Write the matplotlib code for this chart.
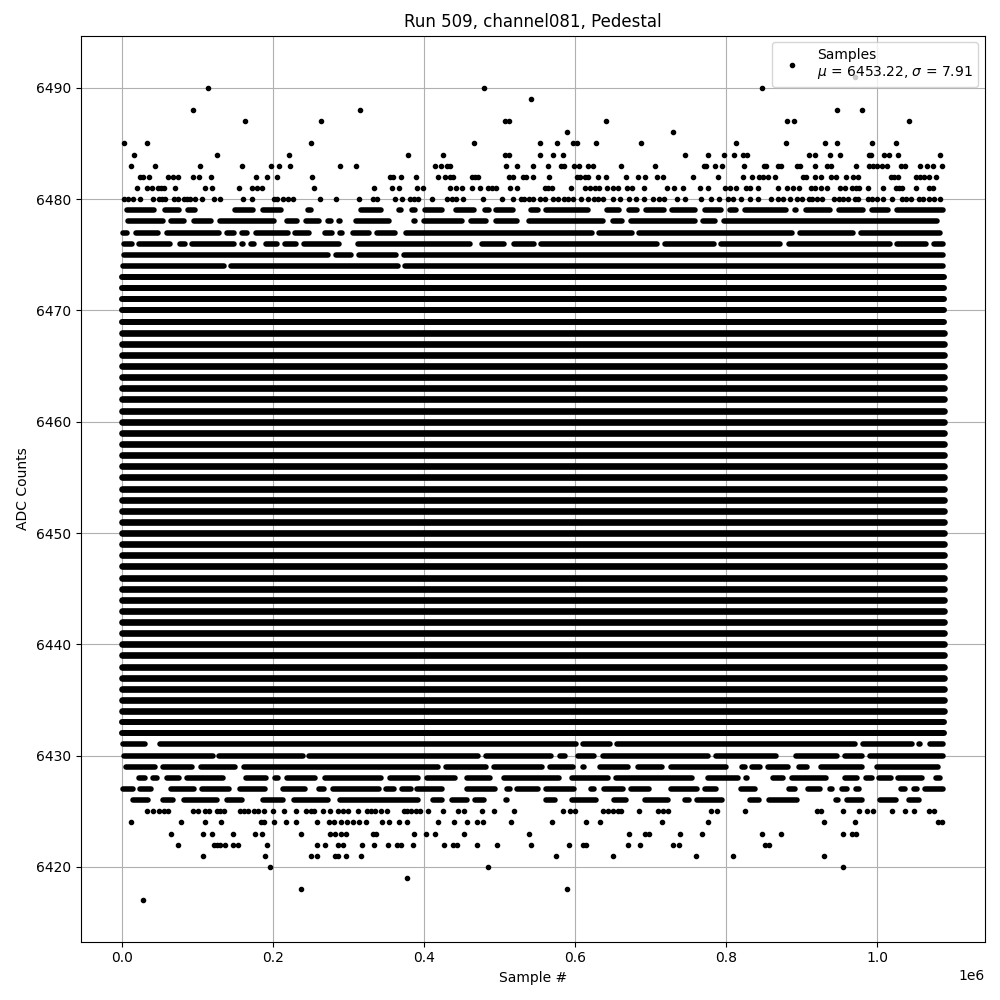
import matplotlib
matplotlib.use("Agg")
import matplotlib.pyplot as plt

# ---- Sample positions are in thousands of samples ----
# Sparse ADC levels: individual samples
dots_6491 = [971]
dots_6490 = [114, 480, 847]
dots_6489 = [542]
dots_6488 = [94, 316, 947, 979]
dots_6487 = [163, 264, 507, 513, 641, 880, 890, 1042]
dots_6486 = [589, 729]
dots_6485 = [3, 33, 250, 466, 554, 576, 597, 602, 628, 687, 813, 879, 931, 946, 993, 1024]
dots_6484 = [16, 126, 222, 379, 425, 507, 512, 554, 571, 584, 745, 776, 797, 810, 822, 828,
             909, 918, 937, 950, 989, 992, 1009, 1016, 1027, 1083]
dots_6483 = [12, 44, 104, 159, 198, 208, 223, 289, 310, 414, 423, 430, 435, 509, 523, 544, 564,
             582, 586, 599, 605, 617, 624, 661, 706, 770, 773, 785, 794, 823, 850, 853, 868,
             872, 894, 897, 917, 934, 938, 972, 989, 994, 1000, 1006, 1013, 1031, 1036, 1057,
             1065, 1073, 1085]
dots_6482 = [24, 28, 36, 62, 68, 74, 95, 103, 118, 178, 192, 205, 252, 355, 359, 370, 390, 419,
             428, 435, 438, 463, 467, 471, 513, 518, 531, 535, 544, 565, 602, 607, 613, 617,
             630, 641, 667, 683, 692, 708, 717, 756, 789, 822, 834, 843, 848, 855, 865, 901,
             905, 918, 925, 939, 945, 958, 968, 975, 1018, 1022, 1027, 1051, 1056, 1062, 1068,
             1078]
dots_6481 = [20, 34, 40, 48, 52, 56, 70, 110, 120, 155, 173, 179, 186, 254, 334, 358, 367, 391,
             399, 435, 442, 451, 463, 474, 485, 490, 496, 514, 523, 560, 564, 569, 595, 613,
             620, 627, 632, 642, 650, 657, 669, 675, 691, 721, 731, 743, 765, 776, 798, 805,
             813, 826, 832, 842, 868, 881, 889, 896, 912, 918, 925, 934, 950, 957, 967, 972,
             976, 987, 1008, 1024, 1028, 1033, 1051, 1068, 1074]
dots_6480 = [3, 8, 15, 24, 41, 49, 53, 57, 69, 75, 82, 86, 90, 97, 106, 122, 130, 161, 172, 201,
             205, 213, 220, 227, 262, 284, 314, 333, 338, 362, 371, 381, 387, 392, 411, 430,
             437, 443, 452, 478, 503, 518, 529, 533, 539, 544, 553, 560, 571, 577, 585, 591,
             597, 608, 617, 625, 630, 637, 650, 659, 672, 680, 691, 703, 711, 718, 735, 745,
             767, 780, 790, 802, 809, 820, 832, 842, 859, 869, 875, 884, 893, 900, 910, 914,
             920, 927, 943, 949, 955, 961, 970, 974, 987, 993, 1000, 1007, 1020, 1033, 1038,
             1044, 1055, 1061, 1068, 1075, 1083]
dots_6425 = [33, 42, 50, 56, 62, 95, 101, 110, 115, 126, 130, 135, 157, 162, 167, 175, 181, 189,
             200, 215, 231, 244, 250, 254, 266, 276, 286, 293, 300, 313, 325, 330, 335, 343,
             351, 373, 378, 383, 390, 395, 406, 425, 445, 453, 477, 493, 519, 584, 593, 600,
             637, 643, 650, 657, 661, 684, 710, 716, 723, 780, 788, 825, 920, 926, 954, 976,
             986, 994, 1019, 1036, 1049, 1068, 1075]
dots_6424 = [13, 78, 110, 131, 184, 188, 201, 218, 231, 258, 274, 281, 290, 298, 306, 314, 323,
             345, 354, 367, 377, 418, 440, 457, 470, 478, 515, 570, 614, 633, 715, 776, 930,
             971, 1080, 1086]
dots_6423 = [65, 108, 119, 147, 177, 186, 238, 276, 283, 290, 297, 332, 337, 387, 403, 415, 453,
             539, 671, 692, 698, 739, 768, 847, 873, 955, 967, 972]
dots_6422 = [74, 122, 126, 130, 137, 147, 154, 193, 258, 269, 286, 293, 318, 334, 352, 364, 370,
             386, 427, 439, 444, 470, 497, 542, 592, 610, 615, 670, 686, 729, 737, 851, 857]
dots_6421 = [108, 190, 250, 259, 282, 286, 297, 317, 575, 650, 760, 809, 929]
dots_6420 = [196, 485, 955]
dots_6419 = [378]
dots_6418 = [238, 589]
dots_6417 = [28]

# Gappy ADC levels: occupied sample ranges (outer start, outer end)
runs_6479 = [(3, 47), (54, 80), (84, 100), (104, 111), (116, 123), (134, 141), (146, 177), (183, 215),
             (225, 231), (243, 254), (268, 274), (282, 288), (313, 347), (363, 373), (381, 392),
             (398, 428), (430, 434), (439, 470), (477, 489), (492, 522), (528, 533), (538, 555),
             (558, 621), (626, 632), (639, 661), (668, 685), (691, 721), (725, 762), (768, 796),
             (802, 817), (822, 883), (888, 896), (902, 941), (946, 985), (989, 1018), (1022, 1090)]
runs_6478 = [(5, 58), (62, 86), (92, 122), (127, 205), (215, 236), (241, 265), (269, 280), (284, 293),
             (307, 357), (369, 376), (384, 392), (397, 454), (459, 485), (492, 527), (536, 641),
             (647, 665), (670, 762), (766, 788), (793, 1082), (1084, 1089)]
runs_6477 = [(-2, 11), (15, 52), (56, 133), (136, 152), (156, 169), (174, 224), (226, 252), (254, 259),
             (266, 282), (286, 295), (303, 331), (335, 365), (373, 626), (628, 679), (681, 890),
             (894, 971), (975, 1086)]
runs_6476 = [(-1, 17), (20, 67), (74, 87), (90, 152), (156, 164), (168, 179), (188, 209), (213, 234),
             (238, 291), (309, 465), (473, 509), (516, 549), (552, 712), (716, 787), (789, 875),
             (879, 1020), (1023, 1068), (1071, 1090)]
runs_6475 = [(-1, 276), (280, 307), (310, 366), (370, 1090)]
runs_6474 = [(-2, 139), (141, 369), (371, 1090)]
runs_6431 = [(-2, 35), (38, 45), (47, 605), (607, 650), (652, 974), (978, 1049), (1051, 1060), (1066, 1090)]
runs_6430 = [(0, 124), (126, 243), (244, 475), (478, 572), (576, 590), (601, 628), (634, 780),
             (783, 870), (875, 883), (889, 950), (954, 983), (987, 1090)]
runs_6429 = [(2, 48), (51, 97), (101, 154), (158, 422), (426, 485), (489, 560), (563, 601), (607, 615),
             (617, 623), (630, 674), (680, 719), (723, 803), (817, 828), (831, 848), (852, 885),
             (893, 911), (922, 983), (996, 1084)]
runs_6428 = [(20, 34), (38, 50), (56, 80), (83, 137), (142, 149), (152, 158), (161, 195), (200, 210),
             (215, 260), (265, 347), (351, 396), (400, 445), (454, 491), (503, 582), (592, 647),
             (651, 758), (761, 768), (772, 819), (823, 831), (839, 846), (858, 879), (883, 936),
             (954, 977), (982, 996), (999, 1021), (1024, 1062), (1074, 1086)]
runs_6427 = [(-2, 18), (21, 42), (62, 99), (103, 146), (153, 193), (197, 204), (210, 246), (249, 256),
             (258, 271), (276, 344), (346, 364), (367, 387), (388, 427), (430, 434), (454, 498),
             (506, 517), (520, 555), (558, 602), (608, 613), (618, 628), (635, 667), (670, 701),
             (707, 714), (724, 765), (768, 790), (804, 811), (816, 842), (858, 865), (880, 894),
             (905, 927), (934, 943), (950, 963), (968, 979), (982, 989), (1015, 1021), (1028, 1040),
             (1045, 1056), (1060, 1090)]
runs_6426 = [(12, 38), (51, 71), (79, 130), (136, 163), (168, 175), (183, 217), (224, 276), (285, 396),
             (409, 428), (433, 461), (464, 483), (486, 493), (505, 513), (520, 526), (558, 577),
             (592, 631), (638, 645), (648, 671), (675, 681), (689, 726), (742, 754), (758, 798),
             (807, 814), (828, 847), (853, 897), (942, 951), (956, 983), (1000, 1028), (1039, 1059),
             (1077, 1084)]

# Fully populated ADC levels and their sample range
outer_levels = [6473, 6472, 6471, 6470, 6469, 6433, 6432]   # slightly thinner bands
core_levels = list(range(6434, 6469))                       # densest bands
solid_range = (0, 1088)

dot_levels = [(6491, dots_6491), (6490, dots_6490), (6489, dots_6489), (6488, dots_6488),
              (6487, dots_6487), (6486, dots_6486), (6485, dots_6485), (6484, dots_6484),
              (6483, dots_6483), (6482, dots_6482), (6481, dots_6481), (6480, dots_6480),
              (6425, dots_6425), (6424, dots_6424), (6423, dots_6423), (6422, dots_6422),
              (6421, dots_6421), (6420, dots_6420), (6419, dots_6419), (6418, dots_6418),
              (6417, dots_6417)]
run_levels = [(6479, runs_6479), (6478, runs_6478), (6477, runs_6477), (6476, runs_6476),
              (6475, runs_6475), (6474, runs_6474), (6431, runs_6431), (6430, runs_6430),
              (6429, runs_6429), (6428, runs_6428), (6427, runs_6427), (6426, runs_6426)]

title = "Run 509, channel081, Pedestal"
label = "Samples\n$\\mu$ = 6453.22, $\\sigma$ = 7.91"

THOUSAND = 1e3
CAP_INSET = 3.5  # half a dot, in thousands of samples

fig, ax = plt.subplots(figsize=(10, 10), dpi=100)

xs, ys = [], []
for level, samples in dot_levels:
    xs += [s * THOUSAND for s in samples]
    ys += [level] * len(samples)
ax.plot(xs, ys, "k.", markersize=6, label=label)

for level, runs in run_levels:
    for a, b in runs:
        a2, b2 = a + CAP_INSET, b - CAP_INSET
        if b2 < a2:
            a2 = b2 = (a + b) / 2
        ax.plot([a2 * THOUSAND, b2 * THOUSAND], [level, level], color="k", lw=4,
                solid_capstyle="round")

for levels, width in ((outer_levels, 4.3), (core_levels, 4.8)):
    for level in levels:
        ax.plot([solid_range[0] * THOUSAND, solid_range[1] * THOUSAND], [level, level], color="k",
                lw=width, solid_capstyle="round")

ax.set_title(title)
ax.set_xlabel("Sample #")
ax.set_ylabel("ADC Counts")
ax.grid(True)
ax.legend(loc="upper right")
ax.set_xlim(-54.4e3, 1142.4e3)
fig.subplots_adjust(left=0.0805, right=0.985, top=0.9645, bottom=0.0585)
fig.savefig("out.png", dpi=100)
